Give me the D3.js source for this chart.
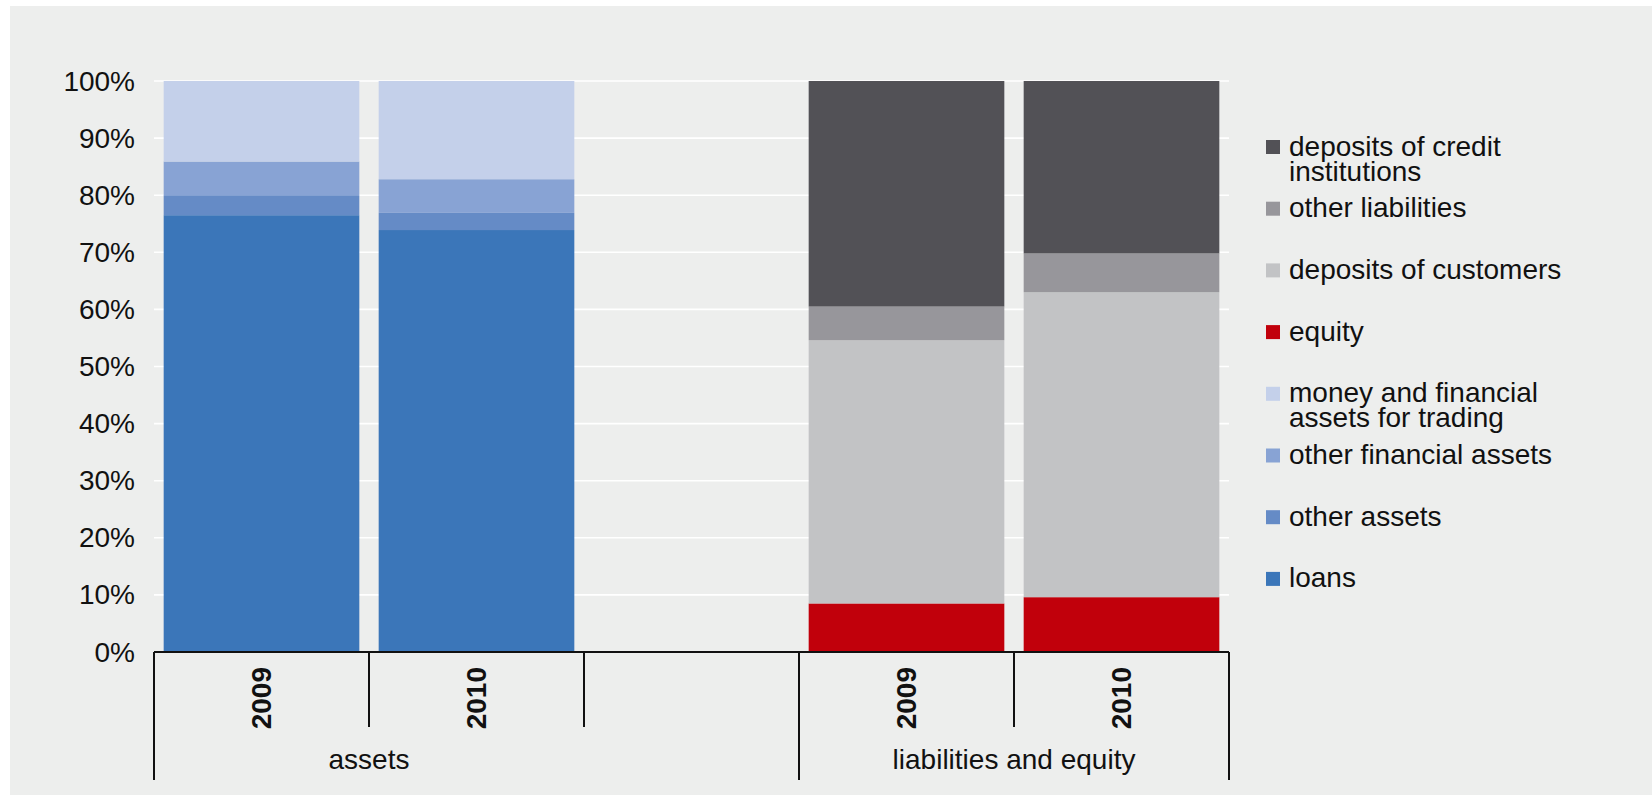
<!DOCTYPE html>
<html>
<head>
<meta charset="utf-8">
<script src="https://cdn.jsdelivr.net/npm/d3@7"></script>
<style>
  html, body { margin: 0; padding: 0; background: #ffffff; }
  svg { display: block; }
  text { font-family: "Liberation Sans", Arial, Helvetica, sans-serif; fill: #111111; }
</style>
</head>
<body>
<svg id="chart" width="1652" height="795"></svg>
<script>
// Balance sheet structure, share of total (%)
const categoryKeys = ["assets-2009", "assets-2010", "spacer", "liabilities-2009", "liabilities-2010"];
const yearLabels   = ["2009", "2010", "", "2009", "2010"];

// Group rows under the years: label, slots the label sits over, slots the bracket spans
const groupLabels    = ["assets", "liabilities and equity"];
const groupLabelSpan = [[0, 1], [3, 4]];
const groupSpan      = [[0, 2], [3, 4]];

// Asset side
const loans                 = [76.5, 73.9, 0, 0, 0];
const otherAssets           = [3.5, 3.0, 0, 0, 0];
const otherFinancialAssets  = [5.9, 5.9, 0, 0, 0];
const moneyAndTradingAssets = [14.1, 17.2, 0, 0, 0];

// Liability side
const equity                       = [0, 0, 0, 8.5, 9.6];
const depositsOfCustomers          = [0, 0, 0, 46.1, 53.4];
const otherLiabilities             = [0, 0, 0, 5.9, 6.8];
const depositsOfCreditInstitutions = [0, 0, 0, 39.5, 30.2];

const yTicks = [0, 10, 20, 30, 40, 50, 60, 70, 80, 90, 100];

// Stack order (bottom to top)
const series = [
  { key: "loans", name: ["loans"], values: loans, color: "#3B76B9" },
  { key: "otherAssets", name: ["other assets"], values: otherAssets, color: "#658BC6" },
  { key: "otherFinancialAssets", name: ["other financial assets"], values: otherFinancialAssets, color: "#88A3D4" },
  { key: "moneyAndTradingAssets", name: ["money and financial", "assets for trading"], values: moneyAndTradingAssets, color: "#C4D0EA" },
  { key: "equity", name: ["equity"], values: equity, color: "#C1000B" },
  { key: "depositsOfCustomers", name: ["deposits of customers"], values: depositsOfCustomers, color: "#C2C3C5" },
  { key: "otherLiabilities", name: ["other liabilities"], values: otherLiabilities, color: "#97969B" },
  { key: "depositsOfCreditInstitutions", name: ["deposits of credit", "institutions"], values: depositsOfCreditInstitutions, color: "#525156" }
];

const svg = d3.select("#chart");

// panel background
svg.append("rect")
  .attr("x", 10).attr("y", 6)
  .attr("width", 1652 - 10).attr("height", 795 - 6)
  .attr("fill", "#EDEEED");

const plot = { left: 154, right: 1229, top: 81, bottom: 652 };

const y = d3.scaleLinear().domain([0, 100]).range([plot.bottom, plot.top]);

const slot = d3.scaleBand().domain(categoryKeys).range([plot.left, plot.right]).padding(0);
const x = d3.scaleBand().domain(categoryKeys).range([plot.left, plot.right])
  .paddingInner(0.09).paddingOuter(0.045);

// gridlines
svg.append("g").selectAll("line")
  .data(yTicks.filter(d => d > 0))
  .join("line")
  .attr("x1", plot.left).attr("x2", plot.right)
  .attr("y1", d => y(d)).attr("y2", d => y(d))
  .attr("stroke", "#ffffff").attr("stroke-width", 1.6);

// y tick labels
svg.append("g").selectAll("text")
  .data(yTicks)
  .join("text")
  .attr("x", 135)
  .attr("y", d => y(d))
  .attr("text-anchor", "end")
  .attr("dominant-baseline", "central")
  .attr("font-size", 28)
  .text(d => d + "%");

// stacked bars
const rows = categoryKeys.map((k, i) => {
  const r = { key: k };
  series.forEach(s => { r[s.key] = s.values[i]; });
  return r;
});
const stacked = d3.stack().keys(series.map(s => s.key))(rows);

svg.append("g").selectAll("g")
  .data(stacked)
  .join("g")
  .attr("fill", (d, i) => series[i].color)
  .selectAll("rect")
  .data(d => d.filter(p => p[1] - p[0] > 0))
  .join("rect")
  .attr("x", d => x(d.data.key))
  .attr("width", x.bandwidth())
  .attr("y", d => y(d[1]))
  .attr("height", d => y(d[0]) - y(d[1]));

// category axis
const axis = svg.append("g").attr("stroke", "#111111").attr("stroke-width", 2);
axis.append("line")
  .attr("x1", plot.left).attr("x2", plot.right)
  .attr("y1", plot.bottom).attr("y2", plot.bottom);

const groupEdges = new Set();
groupSpan.forEach(([a, b]) => {
  groupEdges.add(slot(categoryKeys[a]));
  groupEdges.add(slot(categoryKeys[b]) + slot.bandwidth());
});
const boundaries = d3.range(categoryKeys.length + 1).map(i => plot.left + i * slot.step());
axis.selectAll("line.tick")
  .data(boundaries)
  .join("line")
  .attr("class", "tick")
  .attr("x1", d => d).attr("x2", d => d)
  .attr("y1", plot.bottom)
  .attr("y2", d => [...groupEdges].some(e => Math.abs(e - d) < 0.5) ? 780 : 727);

// year labels
svg.append("g").selectAll("text")
  .data(categoryKeys.map((k, i) => ({ k, label: yearLabels[i] })).filter(d => d.label))
  .join("text")
  .attr("transform", d => `translate(${slot(d.k) + slot.bandwidth() / 2},667) rotate(-90)`)
  .attr("text-anchor", "end")
  .attr("dominant-baseline", "central")
  .attr("font-size", 28)
  .attr("font-weight", "bold")
  .text(d => d.label);

// group labels
svg.append("g").selectAll("text")
  .data(groupLabels.map((g, i) => ({ g, span: groupLabelSpan[i] })))
  .join("text")
  .attr("x", d => (slot(categoryKeys[d.span[0]]) + slot(categoryKeys[d.span[1]]) + slot.bandwidth()) / 2)
  .attr("y", 769)
  .attr("text-anchor", "middle")
  .attr("font-size", 28)
  .text(d => d.g);

// legend, top item is the top of the stack
const legendItems = series.slice().reverse();
const legend = svg.append("g").attr("transform", "translate(1266,147)");
const item = legend.selectAll("g")
  .data(legendItems)
  .join("g")
  .attr("transform", (d, i) => `translate(0,${i * 61.7})`);
item.append("rect")
  .attr("x", 0).attr("y", -7)
  .attr("width", 14).attr("height", 14)
  .attr("fill", d => d.color);
item.append("text")
  .attr("x", 23)
  .attr("y", 8.5)
  .attr("font-size", 28)
  .selectAll("tspan")
  .data(d => d.name)
  .join("tspan")
  .attr("x", 23)
  .attr("dy", (d, i) => i === 0 ? 0 : 25)
  .text(d => d);
</script>
</body>
</html>
